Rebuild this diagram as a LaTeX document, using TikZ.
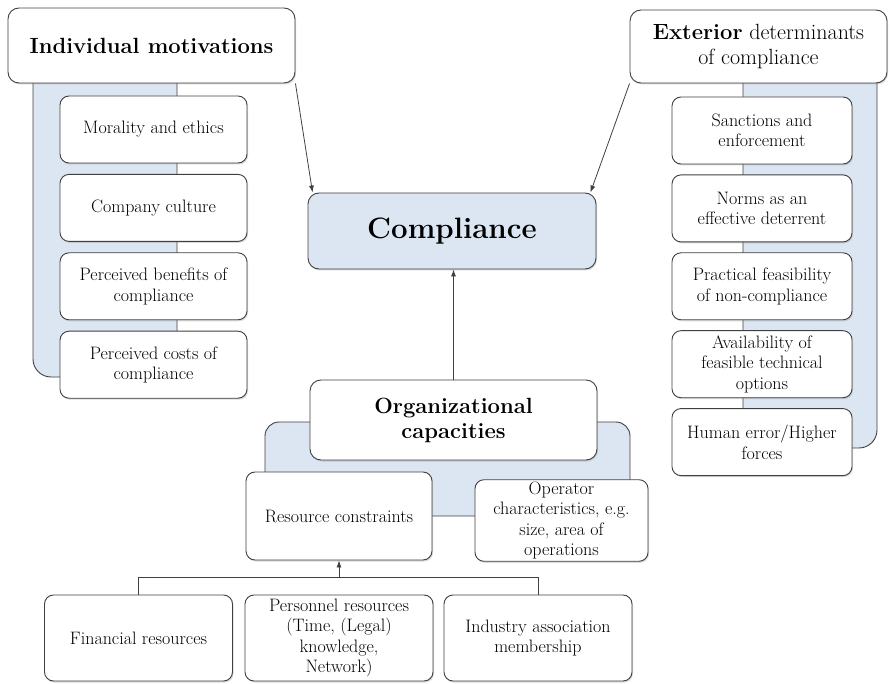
\documentclass[tikz,border=0pt]{standalone}
\usepackage{tikz}
\usetikzlibrary{positioning, calc, shadows, backgrounds, arrows.meta}
\definecolor{paleblue}{HTML}{DCE6F2}
\definecolor{edgegray}{HTML}{404040}
\newcommand{\itemsize}{\fontsize{18}{20.5}\selectfont}
\newcommand{\headsize}{\fontsize{22}{25}\selectfont}
\newcommand{\titlesize}{\fontsize{29.5}{33}\selectfont}
\tikzset{
	box/.style={
		draw=edgegray,
		fill=white,
		line width=0.9pt,
		rounded corners=9pt,
		align=center,
		inner sep=2pt,
		drop shadow={shadow xshift=1pt, shadow yshift=-1.5pt, opacity=0.3}
	},
	item/.style={
		box,
		font=\itemsize,
		minimum height=67pt
	},
	header/.style={
		box,
		font=\headsize,
		rounded corners=11pt
	},
	panel/.style={
		draw=edgegray,
		fill=paleblue,
		line width=0.9pt,
		rounded corners=18pt
	},
	link/.style={
		draw=edgegray,
		line width=0.8pt
	}
}

\begin{document}
\begin{tikzpicture}[x=1pt, y=-1pt, >={Latex[length=7pt, width=5pt]}]
	\useasboundingbox (0,0) rectangle (891,684);

	% top row
	\node[header, minimum width=287pt, minimum height=75pt] (motiv) at (151.5,45.5) {\textbf{Individual motivations}};
	\node[header, minimum width=257pt, minimum height=73pt] (exterior) at (758.5,46.5) {\textbf{Exterior} determinants\\ of compliance};
	\node[header, font=\titlesize\bfseries, fill=paleblue, minimum width=288pt, minimum height=76pt] (compl) at (452,231) {Compliance};

	% individual motivations
	\begin{scope}[every node/.style={item, minimum width=187pt}, node distance=10.5pt]
	\node (moral) at (153.5,129.5) {Morality and ethics};
	\node[below=of moral] (culture) {Company culture};
	\node[below=of culture] (benefit) {Perceived benefits of\\ compliance};
	\node[below=of benefit] (cost) {Perceived costs of\\ compliance};
	\end{scope}

	% exterior determinants
	\begin{scope}[every node/.style={item, minimum width=180pt}, node distance=10pt]
	\node (sanction) at (762,130.5) {Sanctions and\\ enforcement};
	\node[below=of sanction] (norms) {Norms as an\\ effective deterrent};
	\node[below=of norms] (feasible) {Practical feasibility\\ of non-compliance};
	\node[below=of feasible] (options) {Availability of\\ feasible technical\\ options};
	\node[below=of options] (error) {Human error/Higher\\ forces};
	\end{scope}

	% organizational capacities
	\node[header, font=\headsize\bfseries, minimum width=287pt, minimum height=80pt] (org) at (453.5,420) {Organizational\\ capacities};
	\node[item, minimum width=186pt, minimum height=88pt] (resource) at (339,516) {Resource constraints};
	\node[item, minimum width=173pt, minimum height=79pt] (operator) at (561.5,520.5) {Operator\\ characteristics, e.g.\\ size, area of\\ operations};

	% resources
	\begin{scope}[every node/.style={item, minimum width=188pt, minimum height=86pt}]
	\node (finance) at (138.5,638) {Financial resources};
	\node (personnel) at (339,638) {Personnel resources\\ (Time, (Legal)\\ knowledge,\\ Network)};
	\node (industry) at (538,638) {Industry association\\ membership};
	\end{scope}

	% blue panels behind the groups
	\begin{scope}[on background layer]
	\draw[panel] (33,60) rectangle (177,377);
	\draw[panel] (743,60) rectangle (877,448);
	\draw[panel, rounded corners=14pt] (265,422) rectangle (630,516);
	\end{scope}

	% arrows into compliance
	\begin{scope}[link, ->]
	\draw (motiv.south east) -- ([xshift=5pt]compl.north west);
	\draw (exterior.south west) -- ([xshift=-6pt]compl.north east);
	\draw (org.north) -- (org.north |- compl.south);
	\end{scope}

	% resources -> constraints
	\coordinate (junction) at ($(personnel.north)!0.5!(resource.south)$);
	\draw[link] (finance.north) |- (junction) -| (industry.north);
	\draw[link, ->] (junction) -- (resource.south);
\end{tikzpicture}
\end{document}
